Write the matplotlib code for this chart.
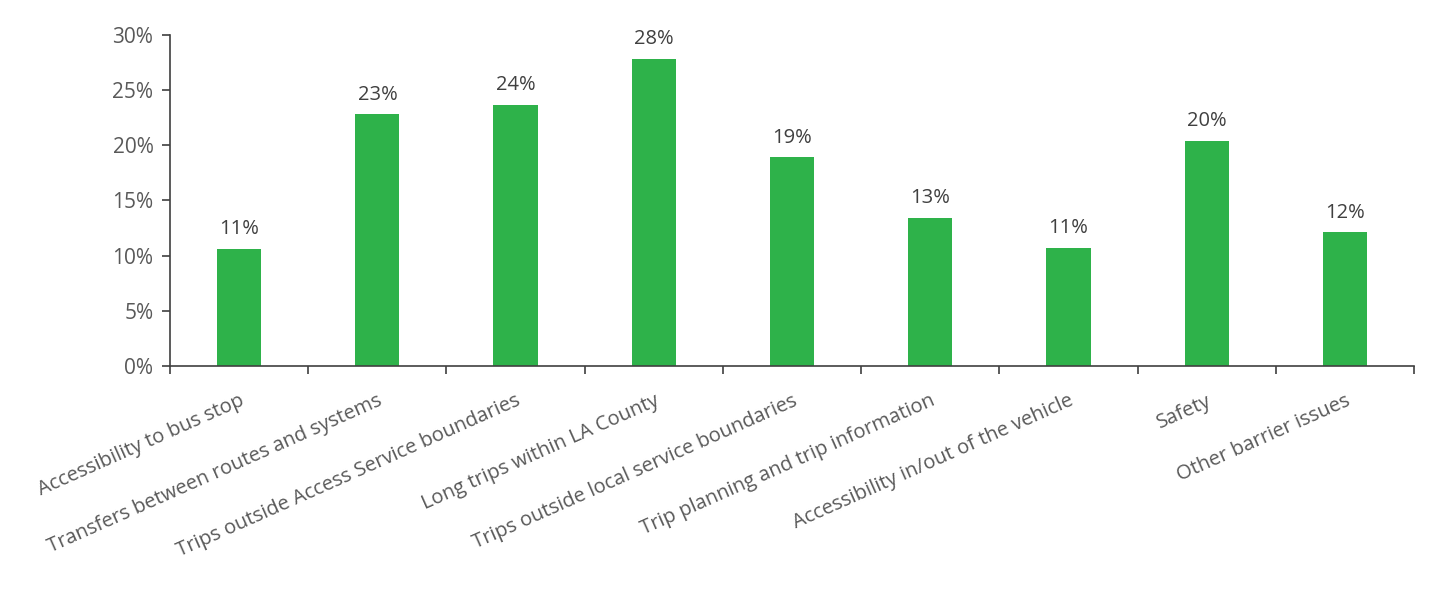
import matplotlib
matplotlib.use('Agg')

import matplotlib.pyplot as plt
from matplotlib.ticker import FuncFormatter, FixedLocator

categories = [
    "Accessibility to bus stop",
    "Transfers between routes and systems",
    "Trips outside Access Service boundaries",
    "Long trips within LA County",
    "Trips outside local service boundaries",
    "Trip planning and trip information",
    "Accessibility in/out of the vehicle",
    "Safety",
    "Other barrier issues",
]
shares = [10.6, 22.8, 23.7, 27.8, 18.9, 13.4, 10.7, 20.4, 12.1]

plt.rcParams['font.family'] = ['Open Sans', 'DejaVu Sans']
text_col = '#595959'
axis_col = '#404040'

fig = plt.figure(figsize=(14.29, 5.89), dpi=100)
ax = fig.add_axes([0.119, 0.3786, 0.8705, 0.562])

x = list(range(len(categories)))
ax.bar(x, shares, width=0.32, color='#2EB24A', zorder=2)

# value labels above each bar
for xi, v in zip(x, shares):
    ax.text(xi, v + 0.9, f"{round(v)}%", ha='center', va='bottom',
            fontsize=14.5, color='#404040')

ax.set_xlim(-0.5, len(categories) - 0.5)
ax.set_ylim(0, 30)
ax.set_yticks(range(0, 31, 5))
ax.yaxis.set_major_formatter(FuncFormatter(lambda v, p: f"{int(v)}%"))

ax.set_xticks(x)
ax.set_xticklabels(categories, rotation=24, ha='right', rotation_mode='anchor',
                   fontsize=14.5, color=text_col)
ax.tick_params(axis='x', which='major', length=0, pad=18)
# category separators on the x axis
ax.xaxis.set_minor_locator(FixedLocator([i - 0.5 for i in range(len(categories) + 1)]))
ax.tick_params(axis='x', which='minor', length=6, width=1.2, color=axis_col, direction='out')
ax.tick_params(axis='y', length=6, width=1.2, color=axis_col, labelsize=15,
               labelcolor=text_col, pad=6)

for side in ('top', 'right'):
    ax.spines[side].set_visible(False)
for side in ('left', 'bottom'):
    ax.spines[side].set_color(axis_col)
    ax.spines[side].set_linewidth(1.2)

fig.savefig('out.png', dpi=100, facecolor='white')
